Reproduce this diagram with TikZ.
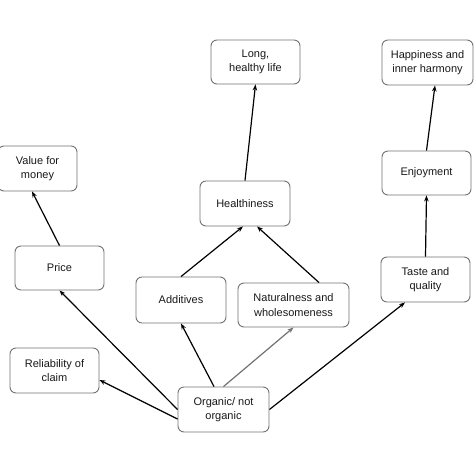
\documentclass[tikz,border=0pt]{standalone}
\usepackage{fontspec}
\setmainfont{Liberation Sans}
\usetikzlibrary{arrows.meta}
\begin{document}
\begin{tikzpicture}[x=1pt,y=-1pt,
  box/.style={draw=black!55,line width=0.9pt,rounded corners=6pt,align=center,
    inner sep=0pt,font=\fontsize{11}{14.5}\selectfont,text=black!90},
  arr/.style={line width=1.2pt,-{Stealth[length=6pt,width=4.5pt]}},
  garr/.style={arr,draw=black!55}]
\useasboundingbox (0,0) rectangle (474,474);
\fill[white] (0,0) rectangle (474,474);
\node[box,minimum width=89pt,minimum height=44pt] (long) at (255.5,62) {Long,\\healthy life};
\node[box,minimum width=91pt,minimum height=45pt] (happy) at (427.5,62.5) {Happiness and\\inner harmony};
\node[box,minimum width=79pt,minimum height=45pt] (value) at (37.5,168.5) {Value for\\money};
\node[box,minimum width=90pt,minimum height=45pt] (health) at (245,203.5) {Healthiness};
\node[box,minimum width=89pt,minimum height=44pt] (enjoy) at (426.5,173) {Enjoyment};
\node[box,minimum width=89pt,minimum height=44pt] (price) at (59.5,268) {Price};
\node[box,minimum width=90pt,minimum height=46pt] (add) at (181,300) {Additives};
\node[box,minimum width=111pt,minimum height=44pt] (nat) at (293.5,305) {Naturalness and\\wholesomeness};
\node[box,minimum width=89pt,minimum height=45pt] (taste) at (425.5,279.5) {Taste and\\quality};
\node[box,minimum width=89pt,minimum height=45pt] (rel) at (54.5,370.5) {Reliability of\\claim};
\node[box,minimum width=91pt,minimum height=45pt] (org) at (223.5,409.5) {Organic/ not\\organic};

\draw[arr] ([yshift=-9.5pt]org.west) -- ([yshift=-9.5pt]rel.east);
\draw[arr] (org.west) -- (price.south);
\draw[arr] ([xshift=-9.5pt]org.north) -- (add.south);
\draw[garr] (org.north) -- (nat.south);
\draw[arr] (org.east) -- ([xshift=-20.5pt]taste.south);
\draw[arr] (add.north) -- ([xshift=-2pt]health.south);
\draw[arr] ([xshift=25.5pt]nat.north) -- ([xshift=12pt]health.south);
\draw[arr] (health.north) -- (long.south);
\draw[arr] (enjoy.north) -- ([xshift=7.5pt]happy.south);
\draw[arr] (taste.north) -- (enjoy.south);
\draw[arr] (price.north) -- ([xshift=-5.5pt]value.south);
\end{tikzpicture}
\end{document}
